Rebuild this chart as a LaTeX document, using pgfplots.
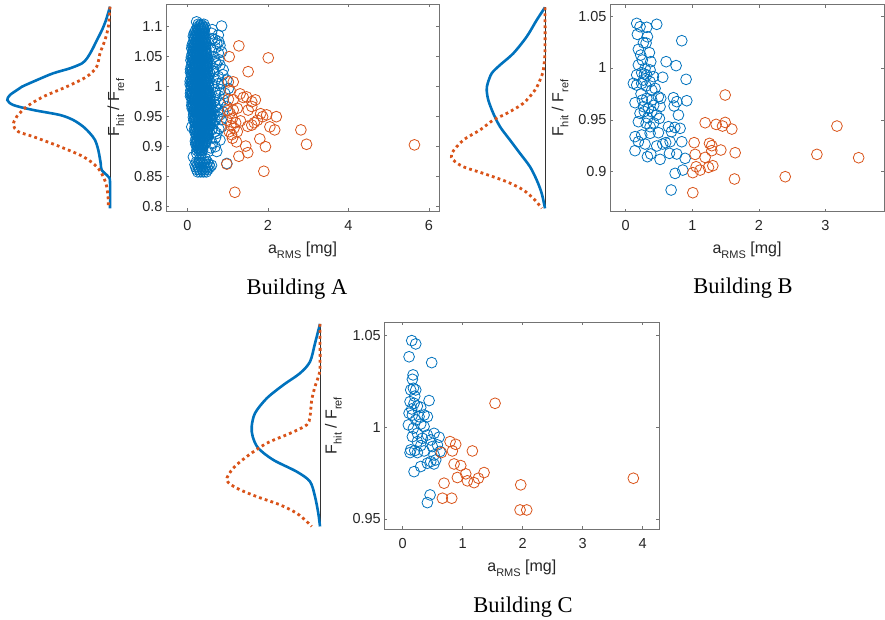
\documentclass[border=0pt]{standalone}
\usepackage{pgfplots}
\pgfplotsset{compat=1.18}
\usepackage{fontspec}
\setmainfont{Liberation Sans}
\newfontfamily\timesfont{Liberation Serif}
\definecolor{mblue}{HTML}{0072BD}
\definecolor{morange}{HTML}{D95319}
\definecolor{txt}{rgb}{0.15,0.15,0.15}
\newcommand\sub[1]{\raisebox{-5pt}{\fontsize{11}{12}\selectfont #1}}
\pgfplotsset{
  scat/.style={scale only axis, axis line style={black!55, line width=0.6pt},
    tick style={black!55, line width=0.6pt}, tick align=inside, major tick length=3pt,
    xtick pos=both, ytick pos=both, xticklabel pos=left, yticklabel pos=left,
    ticklabel style={font=\fontsize{14.5}{16}\selectfont, text=txt},
    xticklabel style={yshift=-5.5pt},
    /pgf/number format/assume math mode=true,
    label style={font=\fontsize{16}{18}\selectfont, text=txt},
    xlabel={a\sub{RMS} [mg]}, ylabel={F\sub{hit} / F\sub{ref}},
    xlabel style={at={(axis description cs:0.5,0)}, anchor=base, yshift=-42pt},
    clip=false},
  dens/.style={scale only axis, hide axis, clip=false},
  bl/.style={only marks, mark=o, mark size=5.4pt, mblue, mark options={line width=0.8pt}},
  ol/.style={only marks, mark=o, mark size=5.4pt, morange, mark options={line width=0.8pt}},
  bd/.style={mblue, line width=2.6pt, smooth, tension=0.5, no marks},
  od/.style={morange, line width=2.8pt, dash pattern=on 2.8pt off 3.2pt, smooth, tension=0.5, no marks},
  base/.style={black!80, line width=0.8pt, no marks},
}
\begin{document}
\begin{tikzpicture}
\path[use as bounding box] (0pt,0pt) rectangle (885pt,-620pt);

% ================= Building A =================
\begin{axis}[dens, at={(0pt,-211pt)}, anchor=south west, width=110pt, height=207pt,
  xmin=-110, xmax=0, ymin=0.7928, ymax=1.1378]
\addplot[base] coordinates {(0,1.1333) (0,0.7972)};
\addplot[bd] coordinates {(0,1.1333)(-4,1.1111)(-8,1.0944)(-13,1.0778)(-18,1.0611)(-23,1.0472)(-28,1.0389)(-40,1.0306)(-57,1.0222)(-73,1.0111)(-88,1.0)(-93,0.9944)(-100,0.9861)(-102.7,0.9778)(-96.7,0.9694)(-76.7,0.9611)(-50,0.9528)(-36.7,0.9444)(-26.7,0.9333)(-20,0.9222)(-15,0.9111)(-11.7,0.8944)(-9.3,0.8722)(-8.3,0.8611)(-1.7,0.85)(0,0.8417)(0,0.7972)};
\addplot[od] coordinates {(0,1.1333)(-1.7,1.1)(-5,1.0778)(-10,1.0556)(-13.3,1.0333)(-23.3,1.0167)(-43.3,1.0)(-66.7,0.9833)(-83.3,0.9667)(-93.3,0.95)(-96.7,0.9361)(-91.7,0.925)(-76.7,0.9167)(-50,0.9)(-26.7,0.8833)(-13.3,0.8667)(-6.7,0.85)(-3.3,0.8333)(-1.7,0.8111)(-1.7,0.7972)};
\end{axis}

\begin{axis}[scat, at={(166pt,-211pt)}, anchor=south west, width=273pt, height=207pt,
  xmin=-0.53, xmax=6.25, ymin=0.7928, ymax=1.1378,
  xtick={0,2,4,6}, ytick={0.8,0.85,0.9,0.95,1,1.05,1.1},
  ylabel style={at={(axis description cs:-0.172,0.5)}, anchor=base}]
% halo
\addplot[bl] table {
x y
0.85 1.101
0.77 1.086
0.73 1.072
0.81 1.069
0.77 1.056
0.69 1.042
0.81 1.036
0.89 1.028
0.98 1.011
0.85 1.006
1.02 0.997
0.93 0.989
0.89 0.978
0.98 0.967
0.81 0.953
0.85 0.933
0.73 0.922
0.81 0.911
0.69 0.900
0.73 0.892
0.52 0.892
0.98 0.872
0.60 0.869
0.60 1.089
0.69 1.078
0.60 1.061
0.56 1.022
0.77 1.017
0.69 0.978
0.77 0.961
0.69 0.944
0.60 0.928
0.27 0.900
0.15 0.883
0.11 0.933
0.65 1.000
0.64 1.030
0.66 0.955
0.62 1.095
0.62 1.080
0.78 1.075
0.70 1.065
0.85 1.058
0.66 1.050
0.78 1.045
0.72 1.038
0.66 1.025
0.88 1.020
0.70 1.012
0.76 1.005
0.82 0.995
0.70 0.990
0.78 0.985
0.66 0.975
0.82 0.972
0.70 0.965
0.88 0.958
0.74 0.950
0.84 0.945
0.64 0.938
0.78 0.930
0.68 0.925
0.70 0.915
0.62 0.905
0.58 0.898
0.45 0.880
0.30 0.878
};
% core
\addplot[bl] table {
x y
0.27 1.104
0.34 1.104
0.41 1.104
0.23 1.108
0.255 1.099
0.325 1.099
0.395 1.099
0.44 1.099
0.208 1.094
0.278 1.094
0.348 1.094
0.418 1.094
0.17 1.089
0.222 1.089
0.292 1.089
0.362 1.089
0.432 1.089
0.15 1.084
0.22 1.084
0.29 1.084
0.36 1.084
0.43 1.084
0.175 1.079
0.245 1.079
0.315 1.079
0.385 1.079
0.455 1.079
0.148 1.074
0.218 1.074
0.288 1.074
0.358 1.074
0.428 1.074
0.12 1.069
0.172 1.069
0.242 1.069
0.312 1.069
0.382 1.069
0.452 1.069
0.11 1.064
0.18 1.064
0.25 1.064
0.32 1.064
0.39 1.064
0.46 1.064
0.145 1.059
0.215 1.059
0.285 1.059
0.355 1.059
0.425 1.059
0.118 1.054
0.188 1.054
0.258 1.054
0.328 1.054
0.398 1.054
0.468 1.054
0.10 1.049
0.152 1.049
0.222 1.049
0.292 1.049
0.362 1.049
0.432 1.049
0.50 1.049
0.09 1.044
0.16 1.044
0.23 1.044
0.30 1.044
0.37 1.044
0.44 1.044
0.51 1.044
0.125 1.039
0.195 1.039
0.265 1.039
0.335 1.039
0.405 1.039
0.475 1.039
0.098 1.034
0.168 1.034
0.238 1.034
0.308 1.034
0.378 1.034
0.448 1.034
0.518 1.034
0.08 1.029
0.132 1.029
0.202 1.029
0.272 1.029
0.342 1.029
0.412 1.029
0.482 1.029
0.08 1.024
0.15 1.024
0.22 1.024
0.29 1.024
0.36 1.024
0.43 1.024
0.50 1.024
0.105 1.019
0.175 1.019
0.245 1.019
0.315 1.019
0.385 1.019
0.455 1.019
0.525 1.019
0.088 1.014
0.158 1.014
0.228 1.014
0.298 1.014
0.368 1.014
0.438 1.014
0.508 1.014
0.07 1.009
0.122 1.009
0.192 1.009
0.262 1.009
0.332 1.009
0.402 1.009
0.472 1.009
0.542 1.009
0.07 1.004
0.14 1.004
0.21 1.004
0.28 1.004
0.35 1.004
0.42 1.004
0.49 1.004
0.105 0.999
0.175 0.999
0.245 0.999
0.315 0.999
0.385 0.999
0.455 0.999
0.525 0.999
0.088 0.994
0.158 0.994
0.228 0.994
0.298 0.994
0.368 0.994
0.438 0.994
0.508 0.994
0.08 0.989
0.132 0.989
0.202 0.989
0.272 0.989
0.342 0.989
0.412 0.989
0.482 0.989
0.552 0.989
0.08 0.984
0.15 0.984
0.22 0.984
0.29 0.984
0.36 0.984
0.43 0.984
0.50 0.984
0.57 0.984
0.125 0.979
0.195 0.979
0.265 0.979
0.335 0.979
0.405 0.979
0.475 0.979
0.545 0.979
0.118 0.974
0.188 0.974
0.258 0.974
0.328 0.974
0.398 0.974
0.468 0.974
0.538 0.974
0.11 0.969
0.162 0.969
0.232 0.969
0.302 0.969
0.372 0.969
0.442 0.969
0.512 0.969
0.582 0.969
0.12 0.964
0.19 0.964
0.26 0.964
0.33 0.964
0.40 0.964
0.47 0.964
0.54 0.964
0.61 0.964
0.165 0.959
0.235 0.959
0.305 0.959
0.375 0.959
0.445 0.959
0.515 0.959
0.585 0.959
0.158 0.954
0.228 0.954
0.298 0.954
0.368 0.954
0.438 0.954
0.508 0.954
0.578 0.954
0.15 0.949
0.202 0.949
0.272 0.949
0.342 0.949
0.412 0.949
0.482 0.949
0.552 0.949
0.62 0.949
0.16 0.944
0.23 0.944
0.30 0.944
0.37 0.944
0.44 0.944
0.51 0.944
0.58 0.944
0.205 0.939
0.275 0.939
0.345 0.939
0.415 0.939
0.485 0.939
0.555 0.939
0.198 0.934
0.268 0.934
0.338 0.934
0.408 0.934
0.478 0.934
0.548 0.934
0.18 0.929
0.232 0.929
0.302 0.929
0.372 0.929
0.442 0.929
0.512 0.929
0.19 0.924
0.26 0.924
0.33 0.924
0.40 0.924
0.47 0.924
0.54 0.924
0.225 0.919
0.295 0.919
0.365 0.919
0.435 0.919
0.505 0.919
0.218 0.914
0.288 0.914
0.358 0.914
0.428 0.914
0.498 0.914
0.20 0.909
0.252 0.909
0.322 0.909
0.392 0.909
0.462 0.909
0.21 0.904
0.28 0.904
0.35 0.904
0.42 0.904
0.245 0.899
0.315 0.899
0.385 0.899
0.238 0.894
0.308 0.894
0.378 0.894
0.23 0.889
0.30 0.889
0.35 0.889
0.22 0.874
0.29 0.874
0.36 0.874
0.43 0.874
0.50 0.874
0.19 0.870
0.26 0.870
0.33 0.870
0.40 0.870
0.47 0.870
0.54 0.870
0.21 0.866
0.28 0.866
0.35 0.866
0.42 0.866
0.49 0.866
0.56 0.866
0.23 0.862
0.30 0.862
0.37 0.862
0.44 0.862
0.51 0.862
0.26 0.858
0.33 0.858
0.40 0.858
0.47 0.858
0.305 1.1015
0.375 1.1015
0.29 1.0965
0.36 1.0965
0.41 1.0965
0.243 1.0915
0.313 1.0915
0.383 1.0915
0.205 1.0865
0.257 1.0865
0.327 1.0865
0.397 1.0865
0.185 1.0815
0.255 1.0815
0.325 1.0815
0.395 1.0815
0.445 1.0815
0.21 1.0765
0.28 1.0765
0.35 1.0765
0.42 1.0765
0.183 1.0715
0.253 1.0715
0.323 1.0715
0.393 1.0715
0.46 1.0715
0.155 1.0665
0.207 1.0665
0.277 1.0665
0.347 1.0665
0.417 1.0665
0.145 1.0615
0.215 1.0615
0.285 1.0615
0.355 1.0615
0.425 1.0615
0.18 1.0565
0.25 1.0565
0.32 1.0565
0.39 1.0565
0.46 1.0565
0.153 1.0515
0.223 1.0515
0.293 1.0515
0.363 1.0515
0.433 1.0515
0.135 1.0465
0.187 1.0465
0.257 1.0465
0.327 1.0465
0.397 1.0465
0.467 1.0465
0.125 1.0415
0.195 1.0415
0.265 1.0415
0.335 1.0415
0.405 1.0415
0.475 1.0415
0.16 1.0365
0.23 1.0365
0.30 1.0365
0.37 1.0365
0.44 1.0365
0.49 1.0365
0.133 1.0315
0.203 1.0315
0.273 1.0315
0.343 1.0315
0.413 1.0315
0.483 1.0315
0.115 1.0265
0.167 1.0265
0.237 1.0265
0.307 1.0265
0.377 1.0265
0.447 1.0265
0.50 1.0265
0.115 1.0215
0.185 1.0215
0.255 1.0215
0.325 1.0215
0.395 1.0215
0.465 1.0215
0.14 1.0165
0.21 1.0165
0.28 1.0165
0.35 1.0165
0.42 1.0165
0.49 1.0165
0.123 1.0115
0.193 1.0115
0.263 1.0115
0.333 1.0115
0.403 1.0115
0.473 1.0115
0.105 1.0065
0.157 1.0065
0.227 1.0065
0.297 1.0065
0.367 1.0065
0.437 1.0065
0.507 1.0065
0.105 1.0015
0.175 1.0015
0.245 1.0015
0.315 1.0015
0.385 1.0015
0.455 1.0015
0.525 1.0015
0.14 0.9965
0.21 0.9965
0.28 0.9965
0.35 0.9965
0.42 0.9965
0.49 0.9965
0.123 0.9915
0.193 0.9915
0.263 0.9915
0.333 0.9915
0.403 0.9915
0.473 0.9915
0.53 0.9915
0.115 0.9865
0.167 0.9865
0.237 0.9865
0.307 0.9865
0.377 0.9865
0.447 0.9865
0.517 0.9865
0.115 0.9815
0.185 0.9815
0.255 0.9815
0.325 0.9815
0.395 0.9815
0.465 0.9815
0.535 0.9815
0.16 0.9765
0.23 0.9765
0.30 0.9765
0.37 0.9765
0.44 0.9765
0.51 0.9765
0.565 0.9765
0.153 0.9715
0.223 0.9715
0.293 0.9715
0.363 0.9715
0.433 0.9715
0.503 0.9715
0.57 0.9715
0.145 0.9665
0.197 0.9665
0.267 0.9665
0.337 0.9665
0.407 0.9665
0.477 0.9665
0.547 0.9665
0.155 0.9615
0.225 0.9615
0.295 0.9615
0.365 0.9615
0.435 0.9615
0.505 0.9615
0.575 0.9615
0.20 0.9565
0.27 0.9565
0.34 0.9565
0.41 0.9565
0.48 0.9565
0.55 0.9565
0.193 0.9515
0.263 0.9515
0.333 0.9515
0.403 0.9515
0.473 0.9515
0.543 0.9515
0.59 0.9515
0.185 0.9465
0.237 0.9465
0.307 0.9465
0.377 0.9465
0.447 0.9465
0.517 0.9465
0.587 0.9465
0.195 0.9415
0.265 0.9415
0.335 0.9415
0.405 0.9415
0.475 0.9415
0.545 0.9415
0.24 0.9365
0.31 0.9365
0.38 0.9365
0.45 0.9365
0.52 0.9365
0.57 0.9365
0.233 0.9315
0.303 0.9315
0.373 0.9315
0.443 0.9315
0.513 0.9315
0.215 0.9265
0.267 0.9265
0.337 0.9265
0.407 0.9265
0.477 0.9265
0.225 0.9215
0.295 0.9215
0.365 0.9215
0.435 0.9215
0.505 0.9215
0.26 0.9165
0.33 0.9165
0.40 0.9165
0.47 0.9165
0.253 0.9115
0.323 0.9115
0.393 0.9115
0.463 0.9115
0.235 0.9065
0.287 0.9065
0.357 0.9065
0.427 0.9065
0.245 0.9015
0.315 0.9015
0.385 0.9015
0.28 0.8965
0.35 0.8965
};
\addplot[ol] table {
x y
1.28 1.068
1.04 1.050
2.01 1.048
1.51 1.025
1.02 1.008
1.14 1.008
1.06 0.994
1.31 0.988
1.47 0.983
1.39 0.982
1.69 0.978
1.60 0.975
1.02 0.979
1.24 0.964
1.60 0.967
1.51 0.961
1.14 0.961
1.06 0.956
1.97 0.953
1.87 0.950
2.21 0.950
1.74 0.944
1.12 0.947
0.98 0.944
1.32 0.943
1.60 0.936
1.50 0.934
2.05 0.933
2.17 0.928
1.16 0.931
1.04 0.925
1.24 0.925
2.82 0.928
2.96 0.904
5.64 0.903
1.80 0.913
1.94 0.900
1.12 0.914
1.22 0.908
1.45 0.901
1.50 0.890
1.28 0.884
0.98 0.871
1.90 0.859
1.18 0.824
1.14 0.978
1.20 0.940
1.08 0.935
1.00 0.960
1.10 0.920
1.66 0.940
1.82 0.955
};
\end{axis}
\node[font=\timesfont\fontsize{22.5}{26}\selectfont, anchor=base] at (297pt,-294pt) {Building A};

% ================= Building B =================
\begin{axis}[dens, at={(440pt,-211.7pt)}, anchor=south west, width=105pt, height=207pt,
  xmin=-105, xmax=0, ymin=0.8615, ymax=1.0609]
\addplot[base] coordinates {(0,1.0583) (0,0.8647)};
\addplot[bd] coordinates {(0,1.0583)(-8.3,1.0461)(-18.3,1.0301)(-31.7,1.014)(-45,1.0028)(-53.3,0.9948)(-57.3,0.9851)(-58.3,0.9787)(-56.7,0.969)(-51.7,0.9562)(-45,0.9434)(-35,0.9305)(-25,0.9177)(-15,0.9048)(-8.3,0.892)(-3.3,0.8792)(0,0.8647)};
\addplot[od] coordinates {(0,1.0583)(0,1.0172)(-1.7,0.998)(-5,0.9883)(-10,0.9787)(-21.7,0.9659)(-38.3,0.9562)(-51.7,0.9498)(-65,0.9402)(-81.7,0.9305)(-93.3,0.9177)(-91.7,0.9113)(-81.7,0.9048)(-61.7,0.8984)(-38.3,0.8904)(-21.7,0.8824)(-10,0.8727)(-3.3,0.8647)};
\end{axis}

\begin{axis}[scat, at={(610pt,-211.7pt)}, anchor=south west, width=274pt, height=207pt,
  xmin=-0.236, xmax=3.88, ymin=0.8615, ymax=1.0609,
  xtick={0,1,2,3}, ytick={0.9,0.95,1,1.05},
  ylabel style={at={(axis description cs:-0.170,0.5)}, anchor=base}]
\addplot[bl] table {
x y
0.165 1.0429
0.215 1.0397
0.316 1.0391
0.466 1.0420
0.175 1.0323
0.326 1.0300
0.266 1.0243
0.306 1.0240
0.190 1.0179
0.842 1.0262
0.356 1.0147
0.225 1.0124
0.250 1.0076
0.376 1.0060
0.607 1.0060
0.757 1.0022
0.190 1.0028
0.290 0.9996
0.366 0.9980
0.165 0.9932
0.240 0.9954
0.316 0.9932
0.416 0.9916
0.556 0.9910
0.907 0.9890
0.115 0.9851
0.165 0.9835
0.240 0.9851
0.306 0.9826
0.366 0.9867
0.441 0.9803
0.266 0.9883
0.391 0.9787
0.491 0.9723
0.526 0.9707
0.717 0.9713
0.767 0.9675
0.917 0.9684
0.140 0.9665
0.250 0.9690
0.316 0.9707
0.391 0.9690
0.727 0.9633
0.266 0.9627
0.341 0.9611
0.391 0.9578
0.215 0.9562
0.516 0.9627
0.466 0.9546
0.792 0.9546
0.190 0.9482
0.306 0.9466
0.366 0.9434
0.506 0.9514
0.642 0.9434
0.737 0.9427
0.817 0.9418
0.687 0.9386
0.140 0.9338
0.240 0.9354
0.366 0.9370
0.491 0.9376
0.190 0.9289
0.290 0.9267
0.466 0.9248
0.556 0.9267
0.667 0.9289
0.842 0.9289
0.140 0.9203
0.326 0.9145
0.376 0.9171
0.516 0.9119
0.657 0.9177
0.767 0.9171
0.892 0.9129
0.857 0.9016
0.742 0.8984
0.682 0.8824
0.280 0.9580
0.330 0.9520
0.420 0.9640
0.230 0.9750
0.280 0.9940
0.420 0.9470
0.600 0.9280
};
\addplot[ol] table {
x y
1.494 0.9739
1.193 0.9472
1.358 0.9456
1.494 0.9475
1.454 0.9440
1.594 0.9411
3.173 0.9440
1.028 0.9280
1.258 0.9273
1.293 0.9251
1.429 0.9209
1.293 0.9203
1.644 0.9183
1.043 0.9167
1.193 0.9138
2.872 0.9167
3.499 0.9135
1.058 0.9048
1.008 0.8991
1.118 0.9016
1.243 0.9042
1.308 0.9058
2.396 0.8952
1.634 0.8930
1.008 0.8798
};
\end{axis}
\node[font=\timesfont\fontsize{22.5}{26}\selectfont, anchor=base] at (743pt,-293pt) {Building B};

% ================= Building C =================
\begin{axis}[dens, at={(215pt,-529pt)}, anchor=south west, width=105pt, height=206.7pt,
  xmin=-105, xmax=0, ymin=0.9445, ymax=1.0573]
\addplot[base] coordinates {(0,1.0564) (0,0.9459)};
\addplot[bd] coordinates {(0,1.0564)(-5,1.0458)(-10,1.0358)(-20,1.0295)(-36.7,1.0231)(-53.3,1.0158)(-65,1.0077)(-68.3,1.0004)(-67.3,0.9949)(-61.7,0.9886)(-46.7,0.9822)(-23.3,0.9758)(-10,0.9704)(-5,0.9622)(-1.7,0.9531)(0,0.9459)};
\addplot[od] coordinates {(0,1.0564)(0,1.0331)(-1.7,1.0276)(-5,1.0222)(-8.3,1.0149)(-10,1.0058)(-13.3,1.0013)(-30,0.9967)(-53.3,0.9913)(-73.3,0.984)(-86.7,0.9777)(-93.3,0.9713)(-83.3,0.9668)(-63.3,0.9622)(-40,0.9577)(-23.3,0.9531)(-13.3,0.9486)(-8.3,0.9459)};
\end{axis}

\begin{axis}[scat, at={(384.3pt,-529pt)}, anchor=south west, width=275pt, height=206.7pt,
  xmin=-0.307, xmax=4.277, ymin=0.9445, ymax=1.0573,
  xtick={0,1,2,3,4}, ytick={0.95,1,1.05},
  ylabel style={at={(axis description cs:-0.173,0.5)}, anchor=base}]
\addplot[bl] table {
x y
0.150 1.0473
0.217 1.0455
0.106 1.0385
0.483 1.0353
0.172 1.0286
0.161 1.0262
0.178 1.0213
0.133 1.0204
0.217 1.0204
0.439 1.0146
0.122 1.0140
0.189 1.0131
0.244 1.0116
0.300 1.0109
0.106 1.0077
0.161 1.0067
0.272 1.0058
0.356 1.0067
0.411 1.0058
0.217 1.0040
0.094 1.0013
0.300 1.0018
0.178 0.9995
0.356 1.0004
0.244 0.9967
0.522 0.9967
0.161 0.9949
0.411 0.9958
0.606 0.9946
0.328 0.9940
0.467 0.9931
0.244 0.9922
0.578 0.9904
0.133 0.9877
0.200 0.9873
0.356 0.9871
0.494 0.9895
0.622 0.9868
0.122 0.9862
0.244 0.9862
0.522 0.9849
0.467 0.9813
0.411 0.9804
0.550 0.9822
0.300 0.9786
0.189 0.9758
0.456 0.9631
0.411 0.9589
0.150 1.0100
0.200 1.0170
0.300 0.9900
0.520 0.9800
};
\addplot[ol] table {
x y
1.539 1.0131
0.789 0.9922
0.883 0.9907
1.161 0.9871
0.828 0.9871
0.644 0.9862
0.856 0.9800
0.967 0.9791
1.050 0.9746
1.356 0.9753
1.261 0.9722
0.911 0.9726
1.078 0.9708
1.189 0.9698
0.689 0.9695
1.967 0.9686
3.844 0.9722
0.661 0.9613
0.817 0.9613
1.956 0.9549
2.067 0.9549
};
\end{axis}
\node[font=\timesfont\fontsize{22.5}{26}\selectfont, anchor=base] at (523pt,-612.5pt) {Building C};
\end{tikzpicture}
\end{document}
